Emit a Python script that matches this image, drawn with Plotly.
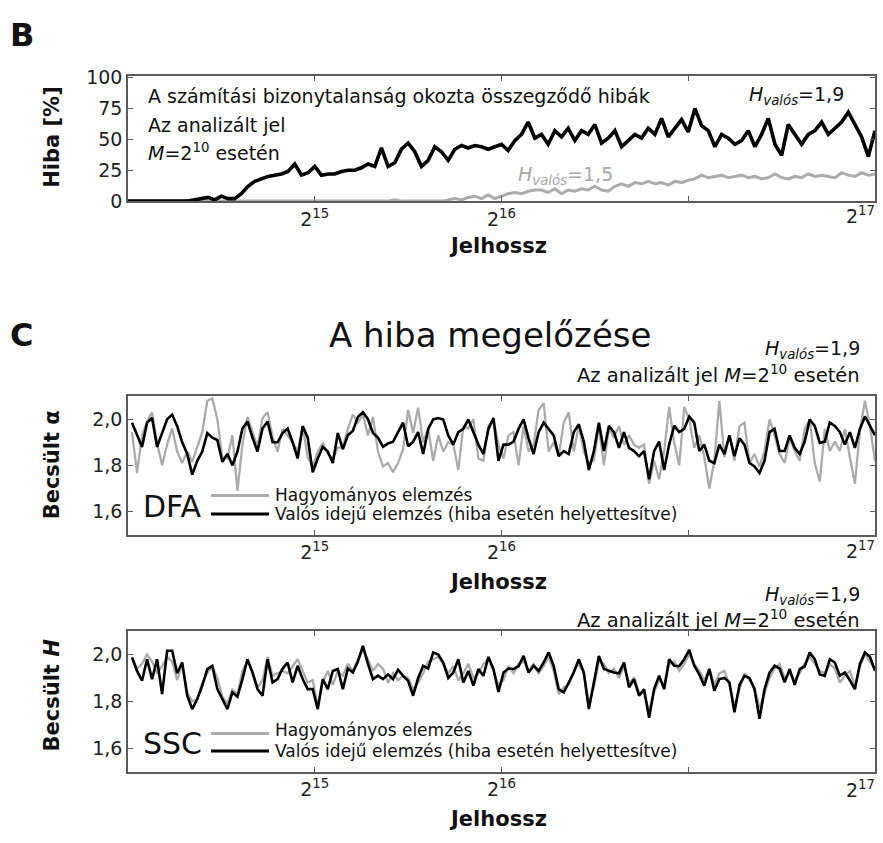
import numpy as np
import plotly.graph_objects as go

W, H = 883, 843
XMAX = 2 ** 17
FONT = "DejaVu Sans, Liberation Sans, Arial, sans-serif"

# ---------------- data ----------------
# Panel B: accumulated error [%] along the signal length
b_black = [0, 0, 0, 0, 0, 0, 0, 0, 0, 0,
           1, 2, 3, 1, 4, 2, 2, 6, 12, 16,
           18, 20, 21, 22, 24, 30, 21, 23, 28, 21,
           22, 22, 24, 25, 25, 27, 30, 28, 43, 28,
           31, 42, 47, 40, 28, 33, 44, 40, 33, 42,
           45, 43, 45, 44, 42, 44, 46, 41, 49, 54,
           64, 51, 54, 46, 57, 52, 59, 49, 57, 54,
           62, 47, 51, 57, 44, 49, 54, 51, 59, 54,
           67, 52, 59, 66, 56, 75, 61, 57, 44, 54,
           51, 46, 49, 57, 44, 54, 67, 46, 37, 62,
           54, 46, 54, 57, 64, 54, 59, 64, 72, 62,
           52, 36, 57]
b_gray = [0] * 40 + [1] + [0] * 7 + [
    1, 2, 1, 3, 4, 2, 5, 2, 4, 6, 7, 6,
    8, 9, 9, 7, 10, 6, 9, 8, 10, 9,
    12, 9, 8, 12, 14, 12, 15, 14, 16, 14,
    15, 13, 16, 15, 17, 18, 21, 19, 20, 21,
    19, 20, 21, 19, 20, 18, 19, 22, 19, 18,
    20, 19, 22, 20, 21, 20, 19, 23, 21, 20,
    23, 21, 22]

# Panel C (DFA): estimated alpha
dfa_trad = [1.944, 1.767, 1.93, 1.99, 2.03, 1.897, 1.80, 1.89, 1.96, 1.86,
            1.81, 1.86, 1.815, 1.876, 1.944, 2.08, 2.09, 2.0, 1.835, 1.83,
            1.93, 1.69, 1.89, 2.01, 1.944, 1.88, 2.005, 2.03, 1.924, 1.86,
            1.958, 1.93, 1.90, 1.86, 1.97, 1.835, 1.795, 1.86, 1.897, 1.85,
            1.83, 1.876, 1.88, 1.958, 2.02, 1.985, 2.02, 1.93, 2.01, 1.86, 1.795,
            1.81, 1.77, 1.81, 1.87, 2.04, 1.94, 2.05, 1.90, 1.96, 1.82,
            1.93, 1.86, 1.90, 1.89, 1.78, 1.97, 1.96, 2.0, 1.83, 1.82,
            1.97, 1.999, 1.89, 1.83, 1.93, 1.944, 1.80, 1.97, 1.86, 1.89,
            2.04, 2.07, 1.86, 1.90, 1.84, 1.985, 2.03, 1.86, 1.97, 1.86,
            1.81, 1.82, 1.97, 1.80, 1.96, 1.92, 1.97, 1.89, 1.93, 1.89,
            1.876, 1.89, 1.72, 1.82, 1.74, 1.862, 2.053, 1.90, 1.80, 2.053,
            2.0, 1.876, 1.93, 1.835, 1.70, 1.82, 2.08, 1.835, 1.93, 1.82,
            1.97, 1.985, 1.81, 1.849, 1.795, 1.862, 1.999, 1.93, 1.849, 1.81,
            1.917, 1.862, 1.82, 1.958, 1.999, 1.81, 1.73, 1.958, 1.862, 1.903,
            1.862, 1.958, 1.835, 1.72, 1.95, 2.08, 1.97, 1.82]
dfa_rt = [1.985, 1.93, 1.88, 1.985, 2.005, 1.88, 1.94, 2.0, 2.02, 1.97,
          1.90, 1.85, 1.76, 1.82, 1.86, 1.94, 1.92, 1.91, 1.815, 1.85,
          1.80, 1.86, 1.96, 1.99, 1.92, 1.86, 1.96, 1.99, 1.90, 1.90,
          1.94, 1.96, 1.90, 1.83, 1.97, 1.92, 1.77, 1.83, 1.88, 1.86,
          1.81, 1.94, 1.87, 1.93, 1.95, 2.01, 2.03, 2.00, 1.94, 1.92, 1.88,
          1.895, 1.903, 1.944, 1.985, 1.883, 1.903, 1.944, 1.849, 1.958, 1.999,
          2.005, 1.999, 1.93, 1.89, 1.944, 1.958, 1.999, 1.944, 1.89, 1.849,
          1.958, 2.005, 1.82, 1.89, 1.89, 1.903, 1.958, 1.999, 1.917, 1.849,
          1.944, 1.985, 1.958, 1.93, 1.84, 1.862, 1.849, 1.944, 1.978, 1.903,
          1.78, 1.862, 1.985, 1.862, 1.971, 1.944, 1.876, 1.944, 1.876, 1.862,
          1.84, 1.862, 1.74, 1.862, 1.903, 1.78, 1.89, 1.971, 1.944, 1.958,
          2.012, 1.985, 1.862, 1.89, 1.82, 1.81, 1.89, 1.849, 1.93, 1.84,
          1.917, 1.89, 1.81, 1.795, 1.767, 1.82, 1.944, 1.958, 1.862, 1.862,
          1.93, 1.876, 1.849, 1.903, 1.999, 1.971, 1.897, 1.903, 1.985, 1.971,
          1.944, 1.89, 1.944, 1.876, 1.958, 2.012, 1.971, 1.93]

# Panel C (SSC): estimated H
ssc_trad = [1.99, 1.94, 1.96, 2.0, 1.97, 1.92, 1.95, 1.99, 1.97, 1.89,
            1.96, 1.84, 1.80, 1.81, 1.88, 1.92, 1.95, 1.90, 1.82, 1.79,
            1.85, 1.83, 1.93, 1.97, 1.93, 1.86, 1.89, 1.99, 1.91, 1.92,
            1.93, 1.92, 1.95, 1.98, 1.93, 1.88, 1.89, 1.78, 1.88, 1.93,
            1.87, 1.93, 1.91, 1.96, 1.93, 1.98, 2.02, 1.98, 1.93, 1.96,
            1.94, 1.88, 1.92, 1.89, 1.91, 1.90, 1.85, 1.88, 1.92, 1.97,
            1.98, 1.99, 1.96, 1.92, 1.95, 1.89, 1.92, 1.96, 1.90, 1.92,
            1.96, 1.98, 1.93, 1.87, 1.89,
            1.95, 1.92, 1.96, 1.97, 1.93, 1.96, 1.92, 1.95, 1.99, 1.93,
            1.83, 1.86, 1.87, 1.93, 1.96, 1.92, 1.79, 1.86, 1.97, 1.96,
            1.92, 1.94, 1.90, 1.95, 1.88, 1.90, 1.84, 1.83, 1.76, 1.84,
            1.89, 1.87, 1.96, 1.97, 1.93, 1.96, 2.0, 1.96, 1.93, 1.89,
            1.94, 1.87, 1.92, 1.93, 1.87, 1.78, 1.85, 1.92, 1.89, 1.86,
            1.77, 1.84, 1.90, 1.94, 1.96, 1.90, 1.92, 1.89, 1.92, 1.96,
            1.99, 1.96, 1.93, 1.92, 1.96, 1.94, 1.88, 1.91, 1.93, 1.87,
            1.95, 2.0, 1.97, 1.94]
ssc_rt = [1.987, 1.93, 1.888, 1.98, 1.895, 1.98, 1.831, 2.016, 2.016, 1.92,
          1.966, 1.824, 1.767, 1.81, 1.867, 1.938, 1.952, 1.852, 1.81, 1.767,
          1.838, 1.82, 1.895, 1.98, 1.923, 1.852, 1.824, 1.98, 1.881, 1.895,
          1.94, 1.966, 1.881, 1.952, 1.895, 1.852, 1.852, 1.767, 1.895, 1.852,
          1.93, 1.938, 1.852, 1.94, 1.923, 1.97, 2.037, 1.96, 1.895, 1.91,
          1.895, 1.915, 1.895, 1.935, 1.909, 1.888, 1.824, 1.90, 1.952, 1.94,
          2.009, 2.0, 1.966, 1.90, 1.923, 1.98, 1.881, 1.93, 1.867, 1.938,
          1.909, 1.99, 1.938, 1.84, 1.923,
          1.94, 1.938, 1.95, 1.994, 1.923, 1.952, 1.93, 1.966, 2.009, 1.952,
          1.852, 1.838, 1.881, 1.923, 1.98, 1.923, 1.767, 1.881, 1.994, 1.938,
          1.93, 1.923, 1.92, 1.966, 1.86, 1.895, 1.824, 1.852, 1.73, 1.852,
          1.91, 1.852, 1.98, 1.952, 1.95, 1.98, 2.02, 1.952, 1.915, 1.867,
          1.938, 1.845, 1.895, 1.90, 1.881, 1.753, 1.87, 1.909, 1.90, 1.852,
          1.725, 1.852, 1.923, 1.952, 1.94, 1.881, 1.938, 1.87, 1.938, 1.95,
          2.009, 1.98, 1.915, 1.909, 1.98, 1.966, 1.91, 1.923, 1.89, 1.852,
          1.96, 2.009, 1.99, 1.93]

x_tickvals = [2 ** 15, 2 ** 16, 3 * 2 ** 15, 2 ** 17]
x_ticktext = ["2<sup>15</sup>", "2<sup>16</sup>", "", ""]
x_lastlabel = "2<sup>17</sup>"
b_tickvals = [0, 25, 50, 75, 100]
b_ticktext = ["0", "25", "50", "75", "100"]
c_tickvals = [1.6, 1.8, 2.0]
c_ticktext = ["1,6", "1,8", "2,0"]

C_START = 700  # first sample of the estimate series (signal length)

GRAY = "#ababab"
BLACK = "#000000"


def px(x):
    return x / W


def py(y):
    return 1 - y / H


fig = go.Figure()


def add_line(xs, ys, color, width, ax):
    fig.add_trace(go.Scatter(x=xs, y=ys, mode="lines",
                             line=dict(color=color, width=width),
                             xaxis="x" + ax, yaxis="y" + ax,
                             showlegend=False, hoverinfo="skip"))


add_line(np.linspace(0, XMAX, len(b_gray)), b_gray, GRAY, 3, "")
add_line(np.linspace(0, XMAX, len(b_black)), b_black, BLACK, 3.6, "")
add_line(np.linspace(C_START, XMAX, len(dfa_trad)), dfa_trad, GRAY, 2.3, "2")
add_line(np.linspace(C_START, XMAX, len(dfa_rt)), dfa_rt, BLACK, 2.6, "2")
add_line(np.linspace(C_START, XMAX, len(ssc_trad)), ssc_trad, GRAY, 2.3, "3")
add_line(np.linspace(C_START, XMAX, len(ssc_rt)), ssc_rt, BLACK, 2.6, "3")

TICKSIZE = 19
axis_style = dict(showline=True, linecolor="#5a5a5a", linewidth=1.5,
                  mirror="ticks", ticks="inside", ticklen=5,
                  tickcolor="#5a5a5a", tickwidth=1.2, showgrid=False,
                  zeroline=False,
                  tickfont=dict(family=FONT, size=TICKSIZE, color="#222"))
xdom = [px(128), px(875)]


def xaxis(anchor):
    d = dict(axis_style)
    d.update(domain=xdom, range=[0, XMAX + 1], tickmode="array",
             tickvals=x_tickvals, ticktext=x_ticktext, anchor=anchor)
    return d


def yaxis(dom, rng, tv, tt, anchor):
    d = dict(axis_style)
    d.update(domain=dom, range=rng, tickmode="array", tickvals=tv,
             ticktext=tt, anchor=anchor)
    return d


fig.update_layout(
    width=W, height=H,
    margin=dict(l=0, r=0, t=0, b=0),
    paper_bgcolor="white", plot_bgcolor="white",
    font=dict(family=FONT, color="#111"),
    xaxis=xaxis("y"),
    yaxis=yaxis([py(196), py(68)], [0, 101], b_tickvals, b_ticktext, "x"),
    xaxis2=xaxis("y2"),
    yaxis2=yaxis([py(538), py(396)], [1.5, 2.1], c_tickvals, c_ticktext, "x2"),
    xaxis3=xaxis("y3"),
    yaxis3=yaxis([py(781), py(637)], [1.5, 2.1], c_tickvals, c_ticktext, "x3"),
)

ann = []


def text(t, x, y, size, xanchor="left", color="#111", angle=0, yanchor="middle"):
    ann.append(dict(text=t, x=px(x), y=py(y), xref="paper", yref="paper",
                    showarrow=False, xanchor=xanchor, yanchor=yanchor,
                    textangle=angle, font=dict(family=FONT, size=size, color=color)))


HV = "<i>H</i><sub><i>valós</i></sub>"
MJ = "<i>M</i>=2<sup>10</sup> esetén"

# last x tick label (2^17) kept inside the figure
for ylab in (210, 554, 799):
    text(x_lastlabel, 860, ylab, TICKSIZE, xanchor="center", color="#222")

# Panel B
text("<b>B</b>", 8, 26, 32)
text("<b>Hiba [%]</b>", 52, 130, 21, xanchor="center", angle=-90)
text("<b>Jelhossz</b>", 498, 242, 21, xanchor="center")
text("A számítási bizonytalanság okozta összegződő hibák", 146, 88, 19)
text("Az analizált jel", 146, 118, 19)
text(MJ, 146, 146, 19)
text(HV + "=1,9", 846, 88, 19, xanchor="right")
text(HV + "=1,5", 516, 170, 19, color="#a8a8a8")

# Panel C
text("<b>C</b>", 8, 333, 32)
text("A hiba megelőzése", 490, 333, 34, xanchor="center")
text(HV + "=1,9", 862, 348, 19, xanchor="right")
text("Az analizált jel " + MJ, 862, 373, 19.5, xanchor="right")
text("<b>Becsült α</b>", 52, 467, 21, xanchor="center", angle=-90)
text("DFA", 172, 509, 30, xanchor="center")
text("Hagyományos elemzés", 273, 497, 17)
text("Valós idejű elemzés (hiba esetén helyettesítve)", 273, 517, 17)
text("<b>Jelhossz</b>", 498, 587, 21, xanchor="center")

text(HV + "=1,9", 862, 600, 19, xanchor="right")
text("Az analizált jel " + MJ, 862, 625, 19.5, xanchor="right")
text("<b>Becsült <i>H</i></b>", 52, 703, 21, xanchor="center", angle=-90)
text("SSC", 172, 752, 30, xanchor="center")
text("Hagyományos elemzés", 273, 738, 17)
text("Valós idejű elemzés (hiba esetén helyettesítve)", 273, 760, 17)
text("<b>Jelhossz</b>", 498, 830, 21, xanchor="center")

fig.update_layout(annotations=ann)

shapes = []
for yy, col in [(498, GRAY), (517, BLACK), (742, GRAY), (760, BLACK)]:
    shapes.append(dict(type="line", xref="paper", yref="paper",
                       x0=px(211), x1=px(269), y0=py(yy), y1=py(yy),
                       line=dict(color=col, width=3)))
fig.update_layout(shapes=shapes)

fig.write_html("out.html")
